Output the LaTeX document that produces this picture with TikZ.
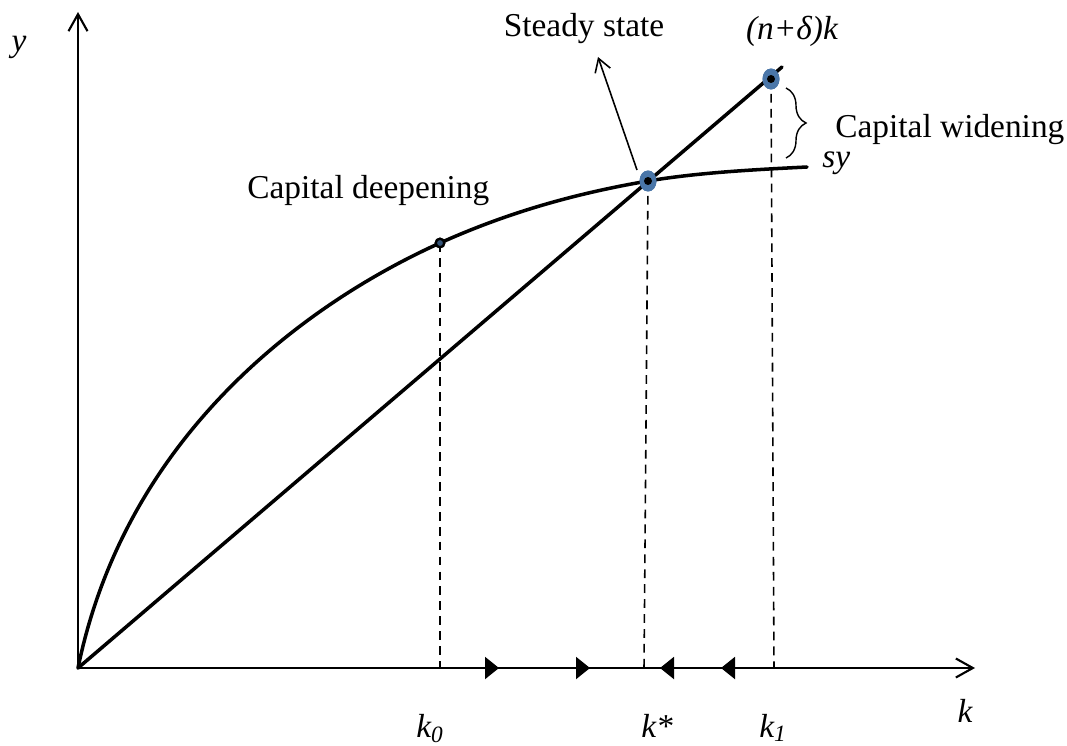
\documentclass[tikz,border=0pt]{standalone}
\usepackage{fontspec}
\setmainfont{Liberation Serif}
\usepackage{xcolor}
\usepackage{tikz}
\usetikzlibrary{arrows.meta, calc, shapes.geometric, decorations.pathreplacing}
\definecolor{solowBlue}{HTML}{4A76A8}
\tikzset{
  axis/.style={
    -{Straight Barb[length=3.4mm, width=3.8mm]},
    line width=1.2pt
  },
  curve/.style={line width=2pt, line cap=round},
  guide/.style={
    dash pattern=on 5pt off 3.5pt, line width=0.9pt
  },
  flow/.style={
    -{Triangle[length=2.8mm, width=4.4mm]},
    line width=1.2pt
  },
  pointer/.style={
    -{Straight Barb[length=2.6mm, width=3.2mm]},
    line width=0.9pt
  },
  bracket/.style={
    decorate, decoration={brace, amplitude=0.4cm},
    line width=0.8pt
  },
  ssdot/.style={
    ellipse, fill=solowBlue, inner sep=0pt,
    minimum width=0.34cm, minimum height=0.42cm,
    path picture={\fill[black] (path picture bounding box.center) circle (0.08cm);}
  },
  smalldot/.style={
    circle, draw=black, fill=solowBlue!70!black, line width=1.3pt,
    inner sep=0pt, minimum size=0.17cm
  },
  txt/.style={font=\fontsize{19}{22}\selectfont, inner sep=0pt},
  mtxt/.style={font=\fontsize{19}{22}\selectfont\itshape, inner sep=0pt}
}

\begin{document}
\begin{tikzpicture}[x=0.02cm, y=0.02cm]
  \useasboundingbox (0,0) rectangle (1067,745);

  % axes
  \coordinate (O) at (78,77);
  \coordinate (ytop) at (78,733);
  \coordinate (xend) at (975,77);
  \draw[axis] (O) -- (ytop);
  \draw[axis] (O) -- (xend);

  % points
  \coordinate (lineend) at (782,678);
  \coordinate (syend) at (807,578);
  \node[smalldot] (k0pt) at (440,502) {};
  \node[ssdot] (sspt) at (648,564) {};
  \node[ssdot] (k1pt) at (771,666) {};

  % dashed guides
  \draw[guide] (k0pt.center) -- (k0pt |- O);
  \draw[guide] (sspt.center) -- ($(sspt |- O)+(-4,0)$);
  \draw[guide] (k1pt.center) -- ($(k1pt |- O)+(3,0)$);

  % curves
  \draw[curve] (O) -- (lineend);
  \draw[curve] (O) .. controls (128,320) and (320,448) .. (k0pt.center)
    .. controls (510,533.5) and (578,552) .. (sspt.center)
    .. controls (698,572.5) and (757,575.5) .. (syend);

  % dots on top
  \node[smalldot] at (k0pt) {};
  \node[ssdot] at (sspt) {};
  \node[ssdot] at (k1pt) {};

  % movement along k
  \coordinate (a1) at (499,77);
  \coordinate (a2) at (590,77);
  \coordinate (a3) at (721,77);
  \coordinate (a4) at (660,77);
  \draw[flow] (k0pt |- O) -- (a1);
  \draw[flow] (a1) -- (a2);
  \draw[flow] ($(k1pt |- O)+(3,0)$) -- (a3);
  \draw[flow] (a3) -- (a4);

  % steady state pointer
  \coordinate (ssfoot) at (637,575);
  \coordinate (sstip) at (598,688);
  \draw[pointer] (ssfoot) -- (sstip);

  % widening bracket
  \coordinate (brtop) at (786,657);
  \coordinate (brbot) at (786,587);
  \draw[bracket] (brtop) -- (brbot);

  % labels
  \node[mtxt, anchor=base] (ylab) at (19,693) {y};
  \node[mtxt, anchor=base] (klab) at (965,23) {k};
  \node[mtxt, anchor=base] (k0lab) at (430,8) {k\textsubscript{0}};
  \node[mtxt, anchor=base] (kslab) at (657,8) {k*};
  \node[mtxt, anchor=base] (k1lab) at (773,8) {k\textsubscript{1}};
  \node[txt, anchor=base] (sslab) at (584,708) {Steady state};
  \node[mtxt, anchor=base] (nklab) at (792,705) {(n+δ)k};
  \node[mtxt, anchor=base west] (sylab) at (822,578) {sy};
  \node[txt, anchor=base west] (widlab) at (835,607) {Capital widening};
  \node[txt, anchor=base west] (deeplab) at (247,547) {Capital deepening};
\end{tikzpicture}
\end{document}
